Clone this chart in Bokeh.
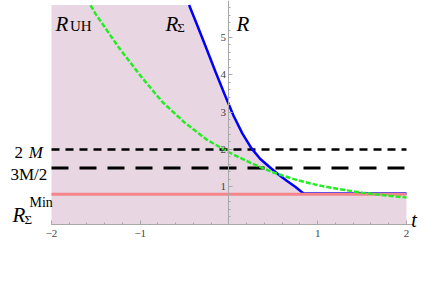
from bokeh.plotting import figure
from bokeh.models import Range1d, LinearAxis, FixedTicker, Label
from bokeh.embed import file_html
from bokeh.resources import INLINE

# ---- data ----
t_uh = [-1.56, -1.5, -1.25, -1.0, -0.75, -0.5, -0.25, 0.0, 0.25, 0.5, 0.75, 1.0, 1.25, 1.5, 1.75, 2.0]
r_uh = [5.86, 5.62, 4.76, 3.98, 3.27, 2.72, 2.26, 1.92, 1.63, 1.38, 1.19, 1.04, 0.93, 0.84, 0.77, 0.71]

t_sigma = [-0.45, -0.35, -0.25, -0.15, -0.05, 0.05, 0.15, 0.25, 0.35, 0.45, 0.55, 0.65, 0.75, 0.84, 2.0]
r_sigma = [5.87, 5.28, 4.68, 4.07, 3.48, 2.91, 2.43, 2.04, 1.75, 1.54, 1.34, 1.16, 0.99, 0.82, 0.82]

r_sigma_min = 0.80
level_2m = 2.0
level_3m2 = 1.5
t_span = [-2.0, 2.0]

x_ticks = [-2, -1, 1, 2]
x_tick_labels = {-2: "\u22122", -1: "\u22121"}
y_ticks = [1, 2, 3, 4, 5]

SERIF = "Liberation Serif"
AXIS_COLOR = "#a8a8a8"

W, H = 436, 295
p = figure(width=W, height=H,
           x_range=Range1d(-2.5746, -2.5746 + W / 88.75),
           y_range=Range1d(-(H - 223.5) / 37.3, 223.5 / 37.3),
           output_backend="svg", toolbar_location=None,
           x_axis_location=None, y_axis_location=None,
           min_border_left=0, min_border_right=0,
           min_border_top=0, min_border_bottom=0)
p.grid.visible = False
p.outline_line_color = None
p.background_fill_color = "white"
p.border_fill_color = "white"

# shaded region under R_Sigma
shade_x = [t_span[0]] + t_sigma
shade_top = [r_sigma[0]] + r_sigma
p.varea(x=shade_x, y1=[0] * len(shade_x), y2=shade_top, fill_color="#E8D6E2")

# horizontal reference levels
p.line(t_span, [level_2m] * 2, line_color="black", line_width=2.5, line_dash="8 6")
p.line(t_span, [level_3m2] * 2, line_color="black", line_width=3, line_dash="17 11")

# curves
p.line(t_sigma, r_sigma, line_color="#0000FF", line_width=2.5)
p.line(t_span, [r_sigma_min] * 2, line_color="#F4858A", line_width=3)
p.line(t_uh, r_uh, line_color="#22EE22", line_width=2.5, line_dash="5 2")

# axes crossing at the origin
x_minor = [round(-2 + 0.2 * i, 1) for i in range(21)]
y_minor = [round(0.2 * i, 1) for i in range(1, 30)]
common = dict(axis_line_color=AXIS_COLOR, major_tick_line_color=AXIS_COLOR,
              minor_tick_line_color=AXIS_COLOR, major_tick_in=4, major_tick_out=0,
              minor_tick_in=2, minor_tick_out=0,
              major_label_text_font=SERIF, major_label_text_font_size="11px",
              major_label_text_color="#444444")
xaxis = LinearAxis(fixed_location=0, bounds=(-2, 2.08),
                   ticker=FixedTicker(ticks=x_ticks, minor_ticks=x_minor),
                   major_label_overrides=x_tick_labels, major_label_standoff=6, **common)
yaxis = LinearAxis(fixed_location=0, bounds=(0, 6.0),
                   ticker=FixedTicker(ticks=y_ticks, minor_ticks=y_minor),
                   major_label_standoff=3, **common)
p.add_layout(xaxis, "below")
p.add_layout(yaxis, "left")

def lab(x, y, text, size, style="normal"):
    p.add_layout(Label(x=x, y=y, text=text, text_font=SERIF, text_font_size=size,
                       text_font_style=style, text_color="black",
                       text_baseline="alphabetic", text_align="left"))

# curve labels
lab(-1.955, 5.35, "R", "21px", "italic")
lab(-1.792, 5.295, "UH", "15px")
lab(-0.716, 5.35, "R", "21px", "italic")
lab(-0.584, 5.26, "\u03a3", "13px")
lab(0.085, 5.35, "R", "21px", "italic")
lab(2.053, 0.094, "t", "20px", "italic")
# level labels
lab(-2.417, 1.917, "2", "17px")
lab(-2.256, 1.917, "M", "17px", "italic")
lab(-2.462, 1.327, "3M/2", "17px")
lab(-2.44, 0.228, "R", "21px", "italic")
lab(-2.248, 0.576, "Min", "14px")
lab(-2.304, 0.121, "\u03a3", "13px")

open("out.html", "w").write(file_html(p, INLINE))
